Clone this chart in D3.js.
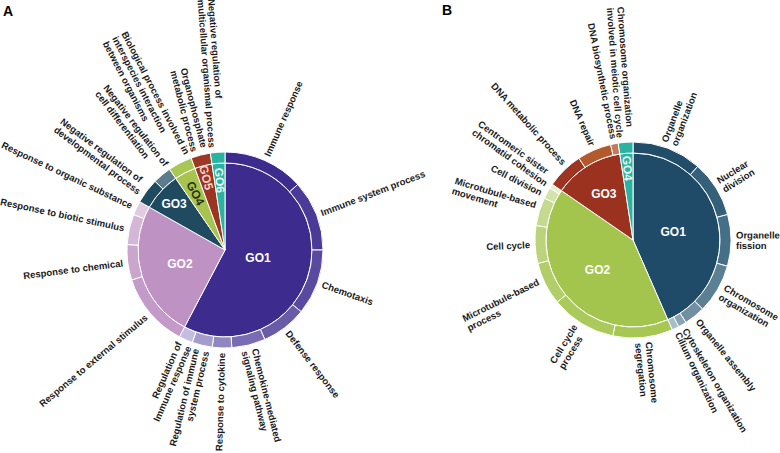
<!DOCTYPE html>
<html><head><meta charset="utf-8">
<script src="https://cdn.jsdelivr.net/npm/d3@7"></script>
<style>
body{margin:0;background:#fff}
text{font-family:"Liberation Sans",Arial,Helvetica,sans-serif}
</style>
</head><body>
<svg id="chart" width="780" height="453"></svg>
<script>
// ---------------- Panel A data ----------------
const groupsA = ["GO1","GO2","GO3","GO4","GO5","GO6"];
const termsA = [
  "Immune response","Immune system process","Chemotaxis","Defense response",
  "Chemokine-mediated\nsignaling pathway","Response to cytokine",
  "Regulation of immune\nsystem process","Regulation of\nImmune response",
  "Response to external stimulus","Response to chemical","Response to biotic stimulus",
  "Response to organic substance",
  "Negative regulation of\ndevelopmental process","Negative regulation of\ncell differentiation",
  "Biological process involved in\ninterspecies interaction\nbetween organisms",
  "Organophosphate\nmetabolic process",
  "Negative regulation of\nmulticellular organismal process"
];
const termGroupA = [0,0,0,0,0,0,0,0, 1,1,1,1, 2,2, 3, 4, 5];
const valuesA = [48,42,39,27,20,11.5,12,8.2, 44.5,21,18,8.3, 15,11, 14.3, 11.6, 8.6];

// ---------------- Panel B data ----------------
const groupsB = ["GO1","GO2","GO3","GO4"];
const termsB = [
  "Organelle\norganization","Nuclear\ndivision","Organelle\nfission","Chromosome\norganization",
  "Organelle assembly","Cytoskeleton organization","Cilium organization",
  "Chromosome\nsegregation","Cell cycle\nprocess","Microtubule-based\nprocess","Cell cycle",
  "Microtubule-based\nmovement","Cell division","Centromeric sister\nchromatid cohesion",
  "DNA metabolic process","DNA repair","DNA biosynthetic process",
  "Chromosome organization\ninvolved in meiotic cell cycle"
];
const termGroupB = [0,0,0,0,0,0,0, 1,1,1,1,1,1,1, 2,2,2, 3];
const valuesB = [41.3,33.6,30.6,29.3,12.5,4.9,4.2, 35.5,38.8,25.5,22.3,16.8,6.7,2.6, 21.9,20.3,4.5, 8.7];

// ---------------- Styles / layout ----------------
const groupColorsA = ["#3d2c8d","#bf92c4","#1f4a60","#a7c54e","#9a3522","#2bb3a1"];
const termColorsA = ["#3d2c8d","#4b3b96","#5a4a9f","#6a5ba8","#7a6cb2","#9087c0","#a49dcc","#c3bedf",
  "#c49ac8","#caa6cd","#d4b6d6","#e0cbe1", "#1f4a60","#5c7b8d", "#a9c755", "#9d3825", "#2bb3a1"];
const groupLabelColorsA = ["#ffffff","#ffffff","#ffffff","#2d3318","#f5d3cb","#e6f7f3"];
const groupLabelRadiusA = [34,47,69,64,75,70];
const groupLabelRotateA = [false,false,false,true,true,true];
const labelAlignA = {6:"ring",7:"ring"};
const labelShiftA = {13:2.5};

const groupColorsB = ["#1f4b68","#a3c54d","#9a321f","#2bb3a1"];
const termColorsB = ["#214d69","#34607a","#456f87","#5b7f93","#7090a2","#8ba4b3","#a9bdc9",
  "#a6c752","#abca5c","#b2ce69","#bbd47b","#c6da8f","#d4e3aa","#e6efcf",
  "#9c3421","#b35a2c","#c27a5e","#2bb3a1"];
const groupLabelColorsB = ["#ffffff","#ffffff","#ffffff","#e6f7f3"];
const groupLabelRadiusB = [41,46,55,72];
const groupLabelRotateB = [false,false,false,true];
const labelAlignB = {};
const labelShiftB = {12:-1.5, 13:2.5, 14:2.5};

const svg = d3.select("#chart");
const rIn = 87, rOut = 98, gap = 5, lineH = 10.5, fontSize = 9.5;

function drawPanel(o){
  const g = svg.append("g").attr("transform", `translate(${o.cx},${o.cy})`);
  const termData = o.terms.map((t,i)=>({name:t, v:o.values[i], grp:o.termGroup[i], i}));
  const groupData = o.groups.map((gname,gi)=>({name:gname, gi,
      v:d3.sum(termData.filter(d=>d.grp===gi), d=>d.v)}));
  const pie = d3.pie().sort(null).value(d=>d.v);
  const inner = pie(groupData), outer = pie(termData);
  const arcIn = d3.arc().innerRadius(0).outerRadius(rIn);
  const arcOut = d3.arc().innerRadius(rIn).outerRadius(rOut);

  g.selectAll("path.in").data(inner).join("path").attr("class","in")
    .attr("d", arcIn).attr("fill", d=>o.groupColors[d.index])
    .attr("stroke","#fff").attr("stroke-width",1);
  g.selectAll("path.out").data(outer).join("path").attr("class","out")
    .attr("d", arcOut).attr("fill", d=>o.termColors[d.index])
    .attr("stroke","#fff").attr("stroke-width",1);

  // group labels inside the pie
  inner.forEach((d,k)=>{
    const a = (d.startAngle+d.endAngle)/2;
    const r = o.glRadius[k];
    const x = r*Math.sin(a), y = -r*Math.cos(a);
    const deg = a*180/Math.PI;
    const rot = o.glRotate[k] ? deg-270 : 0;
    g.append("text").attr("transform", `translate(${x},${y}) rotate(${rot})`)
      .attr("text-anchor","middle").attr("dy","0.36em")
      .attr("font-size",12).attr("font-weight","bold")
      .attr("fill", o.glColors[k]).text(d.data.name);
  });

  // radial term labels
  outer.forEach((d,k)=>{
    const deg = (d.startAngle+d.endAngle)/2*180/Math.PI + (o.shift[k]||0);
    const right = deg <= 180;
    const lines = d.data.name.split("\n");
    const lg = g.append("g").attr("transform", `rotate(${right ? deg-90 : deg+90})`);
    const t = lg.append("text").attr("font-size",fontSize).attr("font-weight","bold")
      .attr("fill","#1a1a1a");
    const n = lines.length;
    const spans = lines.map((ln,i)=> t.append("tspan")
        .attr("y", (i-(n-1)/2)*lineH).attr("dy","0.35em").text(ln));
    const maxW = d3.max(spans.map(s=>s.node().getComputedTextLength()));
    if(right){
      t.attr("text-anchor","start");
      spans.forEach(s=>s.attr("x", rOut+gap));
    } else if(o.align[k]==="ring"){
      t.attr("text-anchor","end");
      spans.forEach(s=>s.attr("x", -(rOut+gap)));
    } else {
      t.attr("text-anchor","start");
      spans.forEach(s=>s.attr("x", -(rOut+gap)-maxW));
    }
  });
}

drawPanel({cx:225, cy:250, groups:groupsA, terms:termsA, termGroup:termGroupA, values:valuesA,
  groupColors:groupColorsA, termColors:termColorsA, glColors:groupLabelColorsA,
  glRadius:groupLabelRadiusA, glRotate:groupLabelRotateA, align:labelAlignA, shift:labelShiftA});
drawPanel({cx:633, cy:240, groups:groupsB, terms:termsB, termGroup:termGroupB, values:valuesB,
  groupColors:groupColorsB, termColors:termColorsB, glColors:groupLabelColorsB,
  glRadius:groupLabelRadiusB, glRotate:groupLabelRotateB, align:labelAlignB, shift:labelShiftB});

svg.append("text").attr("x",3).attr("y",16).attr("font-size",14).attr("font-weight","bold").text("A");
svg.append("text").attr("x",442).attr("y",15).attr("font-size",14).attr("font-weight","bold").text("B");
</script>
</body></html>
